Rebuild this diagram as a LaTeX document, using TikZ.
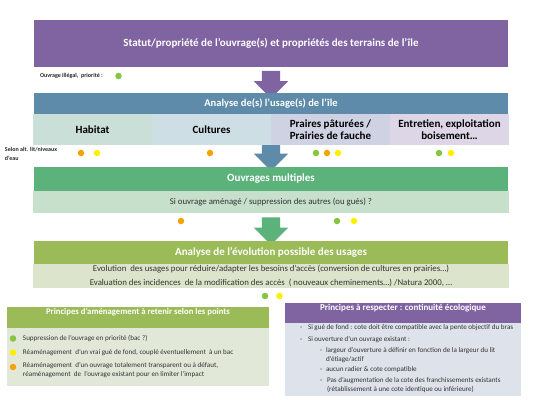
\documentclass[tikz,border=0pt]{standalone}
\usepackage{fontspec}
\setmainfont{Carlito}
\usetikzlibrary{positioning,shapes.arrows,backgrounds}
\definecolor{statpurple}{HTML}{8064A2}
\definecolor{usageblue}{HTML}{5E8BAA}
\definecolor{multgreen}{HTML}{5CB27B}
\definecolor{multlight}{HTML}{C6E0CC}
\definecolor{evololive}{HTML}{9BBB59}
\definecolor{evollight}{HTML}{DCE5CB}
\definecolor{habcell}{HTML}{C9DFD8}
\definecolor{cultcell}{HTML}{CDDFE5}
\definecolor{praicell}{HTML}{CFD2E2}
\definecolor{entrcell}{HTML}{DCD6E6}
\definecolor{leftbody}{HTML}{E2E8D8}
\definecolor{rightbody}{HTML}{DEE2EA}
\definecolor{dotgreen}{HTML}{86C540}
\definecolor{dotorange}{HTML}{F6A200}
\definecolor{dotyellow}{HTML}{FFF000}

\begin{document}
\begin{tikzpicture}[x=1pt,y=-1pt,every node/.style={inner sep=0pt,outer sep=0pt},
  bar/.style={minimum width=474pt,text=white,font=\fontsize{11}{13}\selectfont\bfseries},
  band/.style={minimum width=476pt,text=black!80,align=center,font=\fontsize{8.8}{14}\selectfont},
  cell/.style={minimum width=119pt,minimum height=31pt,align=center,font=\fontsize{11}{12}\selectfont\bfseries},
  dot/.style={circle,minimum size=6.5pt},
  tiny/.style={anchor=west,align=left,font=\fontsize{6}{9}\selectfont\bfseries,text=black!85},
  item/.style={anchor=west,align=left,text=black!80,font=\fontsize{7.1}{8.5}\selectfont},
  blockarrow/.style={single arrow,shape border rotate=270,inner sep=9pt,
    single arrow head extend=8pt,minimum width=34pt,minimum height=#1}]
  \useasboundingbox (0,0) rectangle (533,400);

  % arrows sit behind the boxes
  \begin{scope}[on background layer]
    \node[blockarrow=26pt,fill=statpurple] (arr1) at (271,80) {};
    \node[blockarrow=25pt,fill=usageblue] (arr2) at (271,152.5) {};
    \node[blockarrow=27pt,fill=multgreen] (arr3) at (271,226.5) {};
  \end{scope}

  \node[bar,fill=statpurple,minimum height=47pt] (statut) at (271,43.5)
    {Statut/propriété de l’ouvrage(s) et propriétés des terrains de l’île};
  \node[tiny] (illegal) at (40,76) {Ouvrage illégal,\ \ priorité :};
  \node[dot,fill=dotgreen] (illdot) at (118.5,76) {};

  \node[bar,fill=usageblue,minimum height=21pt,font=\fontsize{10.5}{13}\selectfont\bfseries] (usage) at (271,103.5)
    {Analyse de(s) l’usage(s) de l’île};
  \node[cell,fill=habcell] (habitat) at (92.5,129.5) {Habitat};
  \node[cell,fill=cultcell] (cultures) [right=0pt of habitat] {Cultures};
  \node[cell,fill=praicell] (prairies) [right=0pt of cultures] {Praires pâturées /\\Prairies de fauche};
  \node[cell,fill=entrcell] (entretien) [right=0pt of prairies] {Entretien,\ exploitation\\boisement…};

  \node[tiny] (selon) at (5,153.5) {Selon alt. lit/niveaux\\d’eau};
  \foreach \x/\c [count=\i] in {81/dotorange,97/dotyellow,210/dotorange,316/dotgreen,
      327/dotorange,338/dotyellow,439/dotgreen,451/dotyellow}
    \node[dot,fill=\c] (usedot\i) at (\x,153) {};

  \node[bar,fill=multgreen,minimum height=24pt] (multiples) at (271,179)
    {Ouvrages multiples};
  \node[band,fill=multlight,minimum height=22pt] (amenage) [below=0pt of multiples]
    {Si ouvrage aménagé / suppression des autres (ou gués) ?};
  \foreach \x/\c [count=\i] in {181/dotorange,337/dotgreen,354/dotyellow}
    \node[dot,fill=\c] (multdot\i) at (\x,221) {};

  \node[bar,fill=evololive,minimum height=23pt] (evolution) at (271,252.5)
    {Analyse de l’évolution possible des usages};
  \node[band,fill=evollight,minimum height=24pt] (incidences) [below=0pt of evolution]
    {Evolution\ \ des usages pour réduire/adapter\ les besoins d’accès (conversion de cultures en prairies…)\\
     Evaluation des incidences\ \ de la modification des accès\ \ ( nouveaux cheminements…) /Natura 2000, …};
  \node[dot,fill=dotgreen] (evoldot1) at (265,296) {};
  \node[dot,fill=dotyellow] (evoldot2) at (279.5,296) {};

  % principes d'amenagement
  \node[fill=evololive,minimum width=262pt,minimum height=21pt,anchor=north west] (amhead) at (7,307) {};
  \node[text=white,font=\fontsize{8.7}{10}\selectfont\bfseries] (amtitle) at (138,312.5)
    {Principes d’aménagement à retenir selon les points};
  \node[fill=leftbody,minimum width=262pt,minimum height=58pt] (ambody) [below=0pt of amhead] {};
  \node[dot,fill=dotgreen] (amdot1) at (13,338.5) {};
  \node[dot,fill=dotyellow] (amdot2) at (13,352.5) {};
  \node[dot,fill=dotorange] (amdot3) at (13,367) {};
  \node[item] (am1) at (23,338.5) {Suppression de l’ouvrage en priorité (bac ?)};
  \node[item] (am2) at (23,352.5) {Réaménagement\ \ d’un vrai gué de fond, couplé éventuellement\ \ à un bac};
  \node[item] (am3) at (23,370) {Réaménagement\ \ d’un\ ouvrage totalement\ transparent ou à défaut,\\
    réaménagement\ \ de\ \ l’ouvrage existant pour en limiter l’impact};

  % principes a respecter
  \node[fill=statpurple,minimum width=236pt,minimum height=20pt,anchor=north west] (ecohead) at (285,303) {};
  \node[text=white,font=\fontsize{9}{10}\selectfont\bfseries] (ecotitle) at (403,308.5)
    {Principes à respecter : continuité écologique};
  \node[fill=rightbody,minimum width=236pt,minimum height=73pt] (ecobody) [below=0pt of ecohead] {};
  \node[item] (dash1) at (300,328) {-};
  \node[item] (eco1) at (308,328) {Si gué de fond : cote doit être compatible avec la pente objectif du bras};
  \node[item] (dash2) at (300,340) {-};
  \node[item] (eco2) at (308,340) {Si ouverture d’un ouvrage existant :};
  \node[item] (dash3) at (320,351) {-};
  \node[item] (eco3) at (326,355) {largeur d’ouverture à définir en fonction de la largeur du lit\\d’étiage/actif};
  \node[item] (dash4) at (320,370) {-};
  \node[item] (eco4) at (326,370) {aucun radier \& cote compatible};
  \node[item] (dash5) at (320,381) {-};
  \node[item] (eco5) at (327,385) {Pas d’augmentation de la cote des franchissements existants\\(rétablissement à une cote identique ou inférieure)};
\end{tikzpicture}
\end{document}
